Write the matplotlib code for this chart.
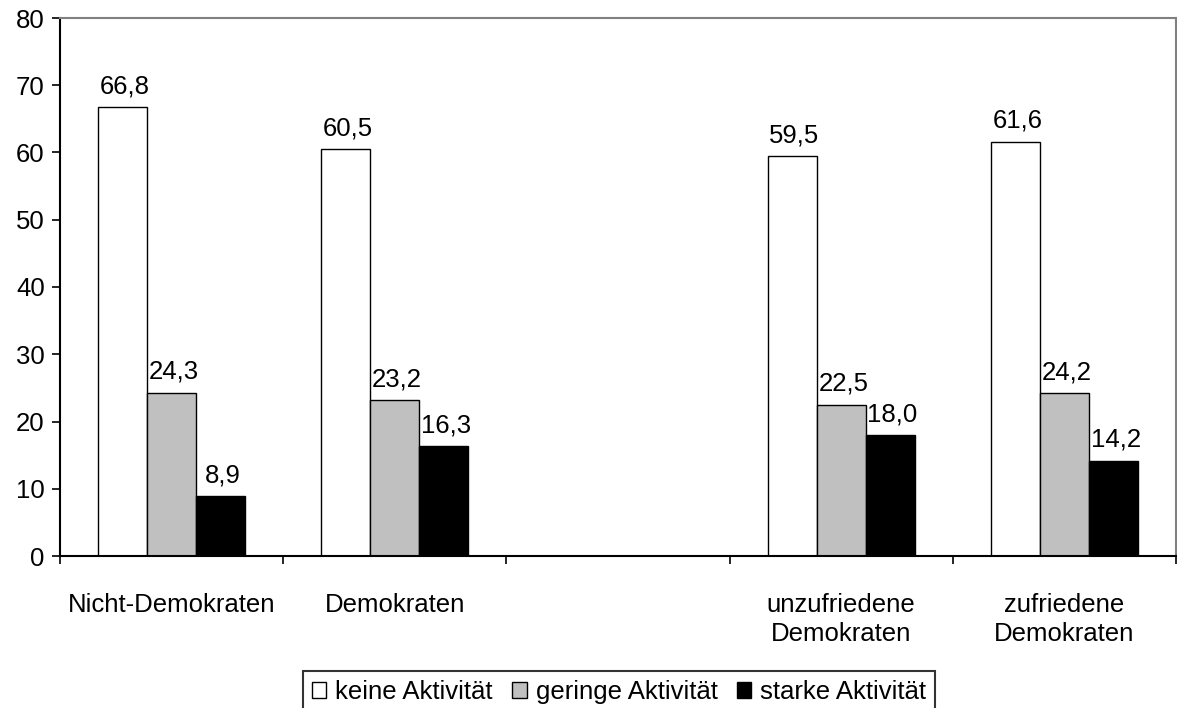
import matplotlib
matplotlib.use("Agg")
import matplotlib.pyplot as plt
import numpy as np
from matplotlib.patches import Patch

plt.rcParams['font.family'] = ['Liberation Sans', 'DejaVu Sans']

categories = ["Nicht-Demokraten", "Demokraten", "", "unzufriedene\nDemokraten", "zufriedene\nDemokraten"]
series_names = ["keine Aktivität", "geringe Aktivität", "starke Aktivität"]
keine = [66.8, 60.5, None, 59.5, 61.6]
geringe = [24.3, 23.2, None, 22.5, 24.2]
starke = [8.9, 16.3, None, 18.0, 14.2]
colors = ["#ffffff", "#c0c0c0", "#000000"]

FS = 18.5

fig = plt.figure(figsize=(11.77, 7.08), dpi=100)
ax = fig.add_axes([60/1177, 1-556/708, 1116/1177, 538/708])

x = np.arange(len(categories))
w = 0.22
for i, (vals, c) in enumerate(zip([keine, geringe, starke], colors)):
    for xi, v in zip(x, vals):
        if v is None:
            continue
        pos = xi + (i - 1) * w
        ax.bar(pos, v, width=w, color=c, edgecolor='black', linewidth=1)
        ax.text(pos + 0.01, v + 1.3, f"{v:.1f}".replace('.', ','), ha='center', va='bottom', fontsize=FS)

ax.set_xlim(-0.5, len(categories) - 0.5)
ax.set_ylim(0, 80)
ax.set_yticks(range(0, 81, 10))
ax.tick_params(axis='y', labelsize=FS, direction='out', length=6, width=1.2, pad=5)
ax.set_xticks(np.arange(-0.5, len(categories)), minor=False)
ax.set_xticklabels([])
ax.tick_params(axis='x', direction='out', length=6, width=1.2)
for xi, lab in zip(x, categories):
    ax.text(xi, -5.5, lab, ha='center', va='top', fontsize=FS, linespacing=1.29)

for s in ['top', 'right']:
    ax.spines[s].set_color('#808080')
    ax.spines[s].set_linewidth(1.5)
for s in ['left', 'bottom']:
    ax.spines[s].set_color('black')
    ax.spines[s].set_linewidth(1.5)

handles = [Patch(facecolor=c, edgecolor='black', linewidth=1) for c in colors]
leg = fig.legend(handles, series_names, loc='upper left', bbox_to_anchor=(303/1177, 1-671/708),
                 ncol=3, fontsize=FS, frameon=True, fancybox=False, edgecolor='black',
                 handlelength=0.55, handleheight=0.55, handletextpad=0.35, columnspacing=0.77,
                 borderpad=0.35, borderaxespad=0)
leg.get_frame().set_linewidth(1.5)

fig.savefig("out.png", dpi=100)
